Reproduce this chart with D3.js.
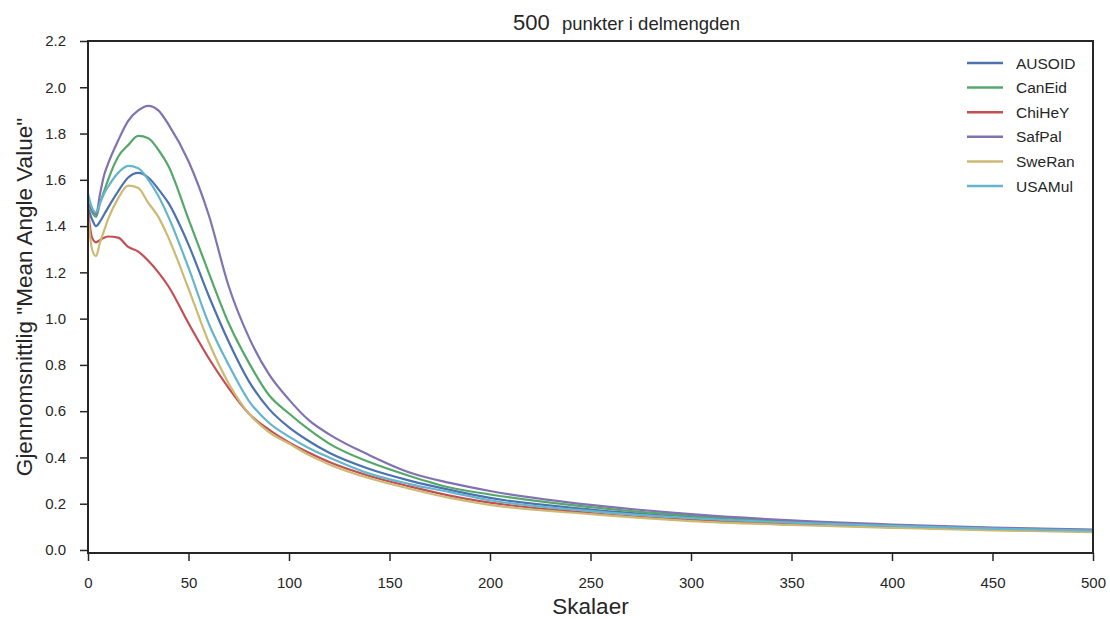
<!DOCTYPE html>
<html>
<head>
<meta charset="utf-8">
<script src="https://cdn.jsdelivr.net/npm/d3@7/dist/d3.min.js"></script>
<style>
  body { margin: 0; background: #fff; }
  text { font-family: "Liberation Sans", Arial, sans-serif; fill: #262626; }
</style>
</head>
<body>
<svg id="chart" width="1110" height="619"></svg>
<script>
// data
const scales = [0, 2, 4, 6, 8, 10, 15, 20, 25, 30, 35, 40, 50, 60, 70, 80, 90, 100, 110, 120, 140, 160, 180, 200, 250, 300, 350, 400, 450, 500];
const names = ["AUSOID", "CanEid", "ChiHeY", "SafPal", "SweRan", "USAMul"];
const colors = ["#4C72B0", "#55A868", "#C44E52", "#8172B2", "#CCB974", "#64B5CD"];

const ausoid = [1.48, 1.43, 1.40, 1.42, 1.45, 1.48, 1.55, 1.61, 1.63, 1.61, 1.56, 1.50, 1.32, 1.10, 0.90, 0.73, 0.61, 0.53, 0.47, 0.42, 0.35, 0.30, 0.26, 0.225, 0.175, 0.142, 0.12, 0.105, 0.093, 0.085];
const caneid = [1.50, 1.46, 1.44, 1.50, 1.55, 1.60, 1.70, 1.75, 1.79, 1.78, 1.73, 1.66, 1.43, 1.20, 0.98, 0.81, 0.67, 0.59, 0.52, 0.46, 0.38, 0.32, 0.27, 0.24, 0.185, 0.148, 0.124, 0.107, 0.095, 0.086];
const chihey = [1.47, 1.35, 1.33, 1.34, 1.35, 1.355, 1.35, 1.31, 1.29, 1.25, 1.20, 1.14, 0.98, 0.83, 0.70, 0.59, 0.52, 0.465, 0.42, 0.38, 0.32, 0.275, 0.235, 0.205, 0.16, 0.13, 0.112, 0.099, 0.088, 0.08];
const safpal = [1.50, 1.47, 1.45, 1.54, 1.62, 1.67, 1.77, 1.855, 1.90, 1.92, 1.90, 1.84, 1.68, 1.45, 1.14, 0.92, 0.76, 0.65, 0.56, 0.50, 0.41, 0.335, 0.29, 0.255, 0.195, 0.155, 0.128, 0.11, 0.097, 0.088];
const sweran = [1.45, 1.30, 1.27, 1.33, 1.38, 1.43, 1.52, 1.575, 1.565, 1.50, 1.44, 1.35, 1.13, 0.90, 0.72, 0.59, 0.51, 0.46, 0.41, 0.37, 0.31, 0.265, 0.225, 0.195, 0.155, 0.125, 0.108, 0.096, 0.085, 0.077];
const usamul = [1.54, 1.48, 1.46, 1.50, 1.54, 1.57, 1.63, 1.66, 1.65, 1.60, 1.53, 1.44, 1.22, 0.98, 0.80, 0.645, 0.55, 0.49, 0.44, 0.40, 0.33, 0.285, 0.25, 0.215, 0.168, 0.138, 0.118, 0.104, 0.092, 0.084];

const seriesValues = [ausoid, caneid, chihey, safpal, sweran, usamul];
const xTicks = [0, 50, 100, 150, 200, 250, 300, 350, 400, 450, 500];
const yTicks = [0.0, 0.2, 0.4, 0.6, 0.8, 1.0, 1.2, 1.4, 1.6, 1.8, 2.0, 2.2];

const margin = { top: 41, right: 17, bottom: 66, left: 88 };
const width = 1110 - margin.left - margin.right;
const height = 619 - margin.top - margin.bottom;

const svg = d3.select("#chart");
const g = svg.append("g")
    .attr("transform", `translate(${margin.left},${margin.top})`);

const x = d3.scaleLinear().domain([0, 500]).range([0, width]);
const y = d3.scaleLinear().domain([-0.013, 2.2]).range([height, 0]);

// axes
const xAxis = g.append("g")
    .attr("transform", `translate(0,${height})`)
    .call(d3.axisBottom(x).tickValues(xTicks).tickSize(8).tickPadding(16).tickFormat(d3.format("d")));
const yAxis = g.append("g")
    .call(d3.axisLeft(y).tickValues(yTicks).tickSize(8).tickPadding(14).tickFormat(d3.format(".1f")));

[xAxis, yAxis].forEach(a => {
    a.select(".domain").remove();
    a.selectAll(".tick line").attr("stroke", "#262626").attr("stroke-width", 1.5);
    a.selectAll(".tick text").style("font-size", "15px").attr("fill", "#262626")
        .style("font-family", "Liberation Sans, Arial, sans-serif");
});

// lines
const line = d3.line()
    .x((d, i) => x(scales[i]))
    .y(d => y(d))
    .curve(d3.curveMonotoneX);

seriesValues.forEach((vals, k) => {
    g.append("path")
        .datum(vals)
        .attr("fill", "none")
        .attr("stroke", colors[k])
        .attr("stroke-width", 2.2)
        .attr("d", line);
});

// frame
g.append("rect")
    .attr("width", width)
    .attr("height", height)
    .attr("fill", "none")
    .attr("stroke", "#262626")
    .attr("stroke-width", 2);

// legend
const legend = g.append("g").attr("transform", `translate(${967 - margin.left},${63 - margin.top})`);
names.forEach((n, i) => {
    const row = legend.append("g").attr("transform", `translate(0,${i * 24.6})`);
    row.append("line").attr("x1", 0).attr("x2", 36).attr("y1", 0).attr("y2", 0)
        .attr("stroke", colors[i]).attr("stroke-width", 2.5);
    row.append("text").attr("x", 49).attr("y", 5.5).style("font-size", "15.5px").text(n);
});

// title
svg.append("text").attr("x", 513).attr("y", 30).style("font-size", "22px").text("500");
svg.append("text").attr("x", 562).attr("y", 30).style("font-size", "18.5px").text("punkter i delmengden");

// axis labels
svg.append("text")
    .attr("x", margin.left + width / 2)
    .attr("y", 614)
    .attr("text-anchor", "middle")
    .style("font-size", "22.5px")
    .text("Skalaer");

svg.append("text")
    .attr("transform", `translate(32,${margin.top + height / 2}) rotate(-90)`)
    .attr("text-anchor", "middle")
    .style("font-size", "22.5px")
    .text("Gjennomsnittlig \"Mean Angle Value\"");
</script>
</body>
</html>
